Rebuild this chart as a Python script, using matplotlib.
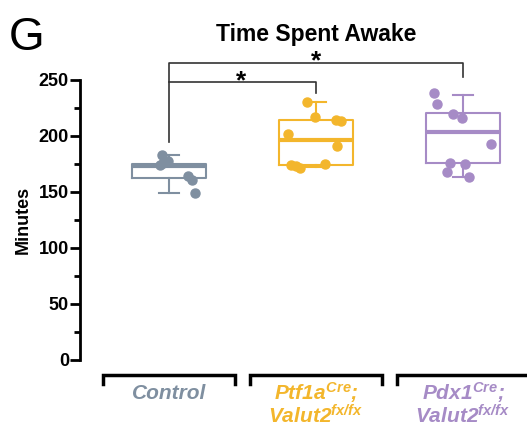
import numpy as np
import matplotlib
matplotlib.use('Agg')
import matplotlib.pyplot as plt
from matplotlib.ticker import MultipleLocator

plt.rcParams['font.family'] = ['Liberation Sans', 'DejaVu Sans']
plt.rcParams['mathtext.fontset'] = 'custom'
plt.rcParams['mathtext.it'] = 'Liberation Sans:italic:bold'
plt.rcParams['mathtext.rm'] = 'Liberation Sans:italic:bold'

# values (minutes)
groups = ['Control', 'Ptf1a', 'Pdx1']
label_top = ['Control', '$Ptf1a^{Cre}$;', '$Pdx1^{Cre}$;']
label_bottom = ['', '$Valut2^{fx/fx}$', '$Valut2^{fx/fx}$']
colors = ['#7f8fa0', '#f3b62c', '#a68bc6']

ctrl_vals = [183, 178, 176, 174, 164, 161, 149]
ctrl_jitter = [-0.048, -0.007, -0.041, -0.061, 0.129, 0.156, 0.177]
ptf_vals = [230, 217, 214, 213, 202, 191, 174, 173, 171, 175]
ptf_jitter = [-0.063, -0.007, 0.136, 0.170, -0.190, 0.141, -0.170, -0.138, -0.109, 0.061]
pdx_vals = [238, 229, 220, 216, 193, 176, 175, 168, 163]
pdx_jitter = [-0.20, -0.176, -0.07, -0.005, 0.187, -0.09, 0.01, -0.107, 0.04]

# box stats: low whisker, q1, median, q3, high whisker
whislo = [149, 172, 163]
q1 = [162.5, 174, 175.6]
med = [173.5, 196, 204]
q3 = [175, 214, 220.5]
whishi = [183, 230, 237]

fig = plt.figure(figsize=(5.27, 4.28), dpi=100)
ax = fig.add_axes([80/527, 68/428, 447/527, 280/428])

all_vals = [ctrl_vals, ptf_vals, pdx_vals]
all_jit = [ctrl_jitter, ptf_jitter, pdx_jitter]
for i in range(3):
    st = [dict(whislo=whislo[i], q1=q1[i], med=med[i], q3=q3[i], whishi=whishi[i], fliers=[])]
    c = colors[i]
    ax.bxp(st, positions=[i], widths=0.5, showfliers=False,
           boxprops=dict(color=c, linewidth=1.5),
           medianprops=dict(color=c, linewidth=3),
           whiskerprops=dict(color=c, linewidth=1.5),
           capprops=dict(color=c, linewidth=1.5), capwidths=0.14)
    xs = i + np.array(all_jit[i])
    ax.plot(xs, all_vals[i], 'o', color=c, markersize=6.5, zorder=3, clip_on=False)

ax.set_xlim(-0.605, 2.435)
ax.set_ylim(0, 250)
ax.yaxis.set_major_locator(MultipleLocator(50))
ax.yaxis.set_minor_locator(MultipleLocator(25))
ax.tick_params(axis='y', which='major', length=7, width=2, labelsize=13, pad=1)
ax.tick_params(axis='y', which='minor', length=4, width=2)
for lab in ax.get_yticklabels():
    lab.set_fontweight('bold')
ax.set_xticks([])
for s in ['top', 'right', 'bottom']:
    ax.spines[s].set_visible(False)
ax.spines['left'].set_linewidth(2)
ax.set_ylabel('Minutes', fontsize=13, fontweight='bold', labelpad=5)

# group brackets and labels below the axis
for i in range(3):
    ax.plot([i - 0.45, i - 0.45, i + 0.45, i + 0.45], [-21, -13.5, -13.5, -21],
            color='black', linewidth=2.5, clip_on=False, solid_joinstyle='miter')
    ax.text(i, -29.5, label_top[i], ha='center', va='center', color=colors[i],
            fontsize=15, fontweight='bold', fontstyle='italic')
    if label_bottom[i]:
        ax.text(i, -50, label_bottom[i], ha='center', va='center', color=colors[i],
                fontsize=15, fontweight='bold', fontstyle='italic')

# significance bars
ax.plot([0, 0, 2, 2], [195, 265, 265, 253], color='#333333', linewidth=1.2, clip_on=False)
ax.plot([0, 1, 1], [248, 248, 238.5], color='#333333', linewidth=1.2, clip_on=False)
ax.text(1, 256, '*', ha='center', va='bottom', fontsize=19, fontweight='bold')
ax.text(0.49, 238.5, '*', ha='center', va='bottom', fontsize=19, fontweight='bold')

fig.text(316/527, 1 - 35/428, 'Time Spent Awake', ha='center', va='center',
         fontsize=16.5, fontweight='bold')
fig.text(9/527, 1 - 38/428, 'G', ha='left', va='center', fontsize=33)

fig.savefig('out.png', dpi=100)
